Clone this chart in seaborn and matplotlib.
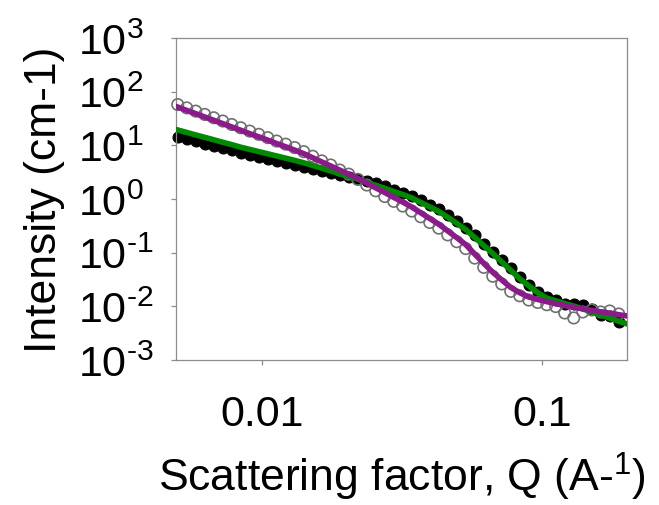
import matplotlib
matplotlib.use("Agg")
import matplotlib.pyplot as plt
import seaborn as sns
import pandas as pd
from matplotlib.ticker import FixedLocator, FixedFormatter, NullLocator

# Scattering vector Q (1/A) of the measured points
q = [0.005000, 0.005383, 0.005797, 0.006242, 0.006721, 0.007237, 0.007793, 0.008391, 0.009035, 0.009733,
     0.01048, 0.01128, 0.01215, 0.01308, 0.01409, 0.01517, 0.01634, 0.01759, 0.01894, 0.02040,
     0.02197, 0.02366, 0.02547, 0.02743, 0.02954, 0.03181, 0.03425, 0.03688, 0.03972, 0.04277,
     0.04605, 0.04959, 0.05340, 0.05750, 0.06192, 0.06668, 0.07180, 0.07731, 0.08325, 0.08965,
     0.09654, 0.1040, 0.1119, 0.1205, 0.1298, 0.1398, 0.1505, 0.1621, 0.1745, 0.1879]

# Measured intensities (1/cm): filled and open symbols
i_filled = [14.3, 13.0, 11.8, 10.7, 9.76, 8.84, 8.05, 7.29, 6.69, 6.14,
            5.64, 5.19, 4.77, 4.38, 3.98, 3.65, 3.34, 3.05, 2.80, 2.56,
            2.34, 2.14, 1.96, 1.72, 1.50, 1.32, 1.14, 0.942, 0.776, 0.640,
            0.499, 0.384, 0.293, 0.209, 0.148, 0.105, 0.0733, 0.0511, 0.0357, 0.0252,
            0.0187, 0.0149, 0.0133, 0.0109, 0.0111, 0.0106, 0.00892, 0.00690, 0.00658, 0.00506]

i_open = [57.4, 49.8, 43.3, 37.6, 32.6, 28.3, 24.4, 21.2, 18.4, 16.0,
          13.9, 12.0, 10.5, 9.07, 7.61, 6.25, 5.13, 4.30, 3.46, 2.90,
          2.32, 1.82, 1.42, 1.11, 0.902, 0.738, 0.595, 0.466, 0.365, 0.286,
          0.214, 0.160, 0.119, 0.0792, 0.0532, 0.0363, 0.0261, 0.0190, 0.0157, 0.0131,
          0.0118, 0.0107, 0.00989, 0.00751, 0.00607, 0.00784, 0.00854, 0.00784, 0.00818, 0.00720]

# Model fits evaluated over the full Q window
q_fit = [0.00493] + q + [0.2012]
fit_green = [19.7, 19.3, 17.4, 15.6, 14.1, 12.7, 11.4, 10.3, 9.23, 8.40, 7.64,
             6.96, 6.33, 5.76, 5.24, 4.73, 4.21, 3.75, 3.33, 2.96, 2.64,
             2.34, 2.05, 1.80, 1.58, 1.38, 1.21, 1.05, 0.864, 0.713, 0.587,
             0.458, 0.353, 0.269, 0.192, 0.136, 0.0965, 0.0673, 0.0469, 0.0327, 0.0241,
             0.0179, 0.0142, 0.0127, 0.0113, 0.0101, 0.00896, 0.00784, 0.00690, 0.00604, 0.00528,
             0.00469]
fit_purple = [52.9, 51.6, 44.8, 38.9, 33.7, 29.3, 25.4, 22.0, 19.1, 16.5, 14.4,
              12.5, 10.8, 9.39, 8.15, 6.99, 5.86, 4.91, 4.12, 3.46, 2.90,
              2.42, 1.98, 1.61, 1.32, 1.07, 0.876, 0.707, 0.553, 0.433, 0.339,
              0.254, 0.190, 0.141, 0.0940, 0.0631, 0.0431, 0.0310, 0.0225, 0.0179, 0.0149,
              0.0134, 0.0122, 0.0112, 0.0104, 0.00960, 0.00897, 0.00840, 0.00791, 0.00745, 0.00698,
              0.00661]

y_ticks = [1e-3, 1e-2, 1e-1, 1e0, 1e1, 1e2, 1e3]
y_ticklabels = ["$\\mathregular{10^{\u2010" + "3}}$", "$\\mathregular{10^{\u2010" + "2}}$",
                "$\\mathregular{10^{\u2010" + "1}}$", "$\\mathregular{10^{0}}$",
                "$\\mathregular{10^{1}}$", "$\\mathregular{10^{2}}$", "$\\mathregular{10^{3}}$"]
x_ticks = [0.01, 0.1]
x_ticklabels = ["0.01", "0.1"]

sns.set_style("white")
plt.rcParams["font.family"] = ["Liberation Sans", "DejaVu Sans"]
plt.rcParams["mathtext.fontset"] = "custom"
plt.rcParams["mathtext.rm"] = "Liberation Sans"
plt.rcParams["mathtext.it"] = "Liberation Sans:italic"
plt.rcParams["mathtext.bf"] = "Liberation Sans:bold"
plt.rcParams["text.color"] = "black"
plt.rcParams["axes.labelcolor"] = "black"

fig = plt.figure(figsize=(6.59, 5.06), dpi=100)
ax = fig.add_axes([0.2671, 0.2866, 0.6844, 0.6364])

df_filled = pd.DataFrame({"Q": q, "I": i_filled})
df_open = pd.DataFrame({"Q": q, "I": i_open})

sns.scatterplot(data=df_filled, x="Q", y="I", ax=ax, marker="o", s=62,
                color="black", edgecolor="black", linewidth=0.8, zorder=2, clip_on=False)
sns.scatterplot(data=df_open, x="Q", y="I", ax=ax, marker="o", s=68,
                facecolors="none", edgecolors="#707070", linewidth=1.2, zorder=3, clip_on=False)
sns.lineplot(x=q_fit, y=fit_green, ax=ax, color="#008a00", linewidth=4.0,
             sort=False, estimator=None, zorder=4)
sns.lineplot(x=q_fit, y=fit_purple, ax=ax, color="#8b1a8b", linewidth=4.0,
             sort=False, estimator=None, zorder=5)

ax.set_xscale("log")
ax.set_yscale("log")
ax.set_xlim(0.00493, 0.2012)
ax.set_ylim(1e-3, 1e3)

ax.xaxis.set_major_locator(FixedLocator(x_ticks))
ax.xaxis.set_major_formatter(FixedFormatter(x_ticklabels))
ax.xaxis.set_minor_locator(NullLocator())
ax.yaxis.set_major_locator(FixedLocator(y_ticks))
ax.yaxis.set_major_formatter(FixedFormatter(y_ticklabels))
ax.yaxis.set_minor_locator(NullLocator())

for side in ["left", "right", "top", "bottom"]:
    ax.spines[side].set_color("#8c8c8c")
    ax.spines[side].set_linewidth(0.9)

ax.tick_params(axis="both", which="major", direction="out", length=3.6, width=0.9,
               color="#8c8c8c", labelsize=31, labelcolor="black",
               bottom=True, left=True, top=False, right=False)
ax.tick_params(axis="x", pad=21)
ax.tick_params(axis="y", pad=67)
for lab in ax.get_yticklabels():
    lab.set_horizontalalignment("left")

ax.set_xlabel("Scattering factor, Q (A-$^{\\mathregular{1}}$)", fontsize=32, labelpad=11,
              color="black")
ax.set_ylabel("Intensity (cm-1)", fontsize=32, labelpad=9, color="black")

fig.savefig("out.png", dpi=100, facecolor="white")
